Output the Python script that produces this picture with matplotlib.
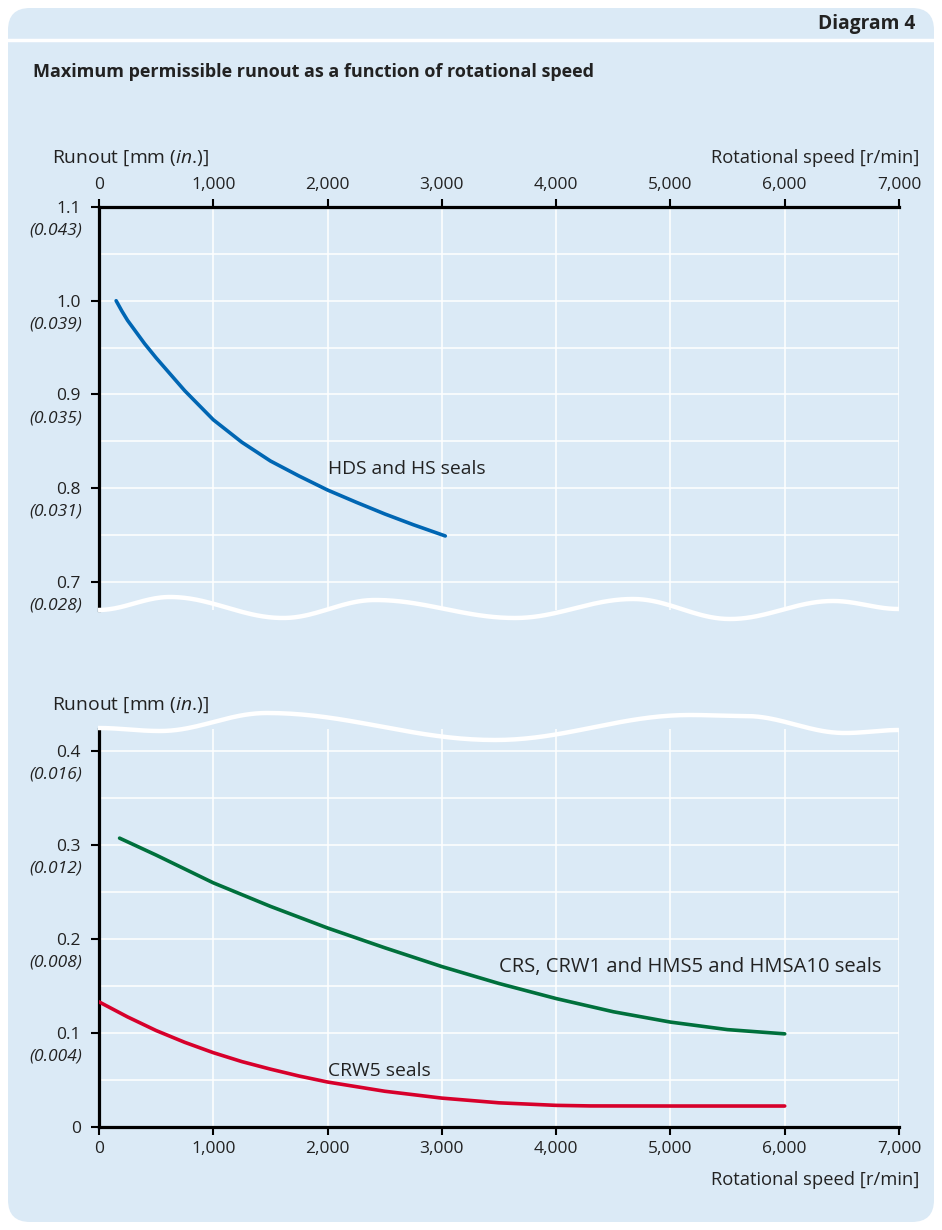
import numpy as np
import matplotlib
matplotlib.use('Agg')
import matplotlib.pyplot as plt
from matplotlib.patches import FancyBboxPatch
from matplotlib.lines import Line2D

# --- data ---
HDS_RPM = [150, 200, 250, 400, 500, 750, 1000, 1250, 1500, 1750, 2000, 2250, 2500, 2750, 3030]
HDS_RUNOUT = [1.0, 0.989, 0.979, 0.954, 0.939, 0.904, 0.873, 0.849, 0.829, 0.813,
              0.798, 0.785, 0.7725, 0.761, 0.749]

CRS_RPM = [180, 500, 1000, 1500, 2000, 2500, 3000, 3500, 4000, 4500, 5000, 5500, 6000]
CRS_RUNOUT = [0.307, 0.289, 0.2595, 0.2345, 0.2115, 0.1905, 0.1705, 0.1525, 0.1365,
              0.1225, 0.1115, 0.1035, 0.099]

CRW5_RPM = [0, 250, 500, 750, 1000, 1250, 1500, 1750, 2000, 2500, 3000, 3500, 4000,
            4300, 5000, 6000]
CRW5_RUNOUT = [0.133, 0.117, 0.1025, 0.090, 0.079, 0.0695, 0.0615, 0.0542, 0.0478,
               0.038, 0.0307, 0.0257, 0.023, 0.0224, 0.0223, 0.0223]

X_TICKS = [0, 1000, 2000, 3000, 4000, 5000, 6000, 7000]
X_TICK_LABELS = ['0', '1,000', '2,000', '3,000', '4,000', '5,000', '6,000', '7,000']
TOP_Y_TICKS = [0.7, 0.8, 0.9, 1.0, 1.1]
TOP_Y_INCH = ['(0.028)', '(0.031)', '(0.035)', '(0.039)', '(0.043)']
BOT_Y_TICKS = [0, 0.1, 0.2, 0.3, 0.4]
BOT_Y_INCH = ['', '(0.004)', '(0.008)', '(0.012)', '(0.016)']

BG = '#dbeaf6'
TXT = '#222222'
BLUE = '#0066b3'
GREEN = '#00703c'
RED = '#d7002b'

W, H = 942, 1230
FS = 13
TICK_FS = 12.5
LABEL_FS = 13.9
plt.rcParams['font.family'] = ['Open Sans', 'DejaVu Sans']
plt.rcParams['mathtext.fontset'] = 'custom'
plt.rcParams['mathtext.rm'] = 'Open Sans'
plt.rcParams['mathtext.it'] = 'Open Sans:italic'

RUNOUT_TITLE = r'Runout [mm ($\mathit{in}$.)]'


def px_axes(fig, left, top, right, bottom):
    return fig.add_axes([left / W, 1 - bottom / H, (right - left) / W, (bottom - top) / H])


def fx(x):
    return x / W


def fy(y):
    return 1 - y / H


def wave(fig, pts):
    # smooth break line through extrema (pixel coords)
    xs, ys = [], []
    for (x0, y0), (x1, y1) in zip(pts[:-1], pts[1:]):
        t = np.linspace(0, 1, 40)
        xs.extend(x0 + (x1 - x0) * t)
        ys.extend(y0 + (y1 - y0) * (1 - np.cos(np.pi * t)) / 2)
    xs = np.array(xs)
    ys = np.array(ys)
    fig.add_artist(Line2D(fx(xs), fy(ys), color='white', lw=3.2, zorder=20,
                          solid_capstyle='butt'))


def style_axes(ax, yticks, inch, where):
    ax.patch.set_visible(False)
    for s in ax.spines.values():
        s.set_visible(False)
    ax.spines['left'].set_visible(True)
    ax.spines[where].set_visible(True)
    for s in ('left', where):
        ax.spines[s].set_linewidth(2.3)
        ax.spines[s].set_color('black')
        ax.spines[s].set_capstyle('projecting')
    ax.set_xlim(0, 7000)
    ax.set_xticks(X_TICKS)
    ax.set_xticklabels(X_TICK_LABELS)
    if where == 'top':
        ax.xaxis.tick_top()
    ax.tick_params(axis='x', direction='out', length=6, width=1.5, pad=4,
                   labelsize=TICK_FS, colors='black', labelcolor=TXT)
    ax.set_yticks(yticks)
    ax.set_yticklabels([f'{v:.1f}' if v else '0' for v in yticks])
    ax.tick_params(axis='y', direction='out', length=6, width=1.5, pad=7,
                   labelsize=TICK_FS, colors='black', labelcolor=TXT)
    ax.set_yticks(np.arange(0, 1.2, 0.05), minor=True)
    ax.tick_params(axis='y', which='minor', length=0)
    ax.grid(True, which='both', color='white', lw=1.1)
    ax.set_axisbelow(True)
    for v, lab in zip(yticks, inch):
        if lab:
            ax.annotate(lab, xy=(0, v), xycoords=('axes fraction', 'data'),
                        xytext=(-12, -17), textcoords='offset points',
                        ha='right', va='center', fontsize=TICK_FS, style='italic',
                        color=TXT, annotation_clip=False)


def main():
    fig = plt.figure(figsize=(W / 100, H / 100), dpi=100)
    fig.patch.set_facecolor('white')

    panel = FancyBboxPatch((8, 8), 926, 1214, boxstyle='round,pad=0,rounding_size=22',
                           transform=None, facecolor=BG, edgecolor='none', zorder=-10)
    fig.patches.append(panel)
    fig.add_artist(Line2D([fx(8), fx(934)], [fy(40), fy(40)], color='white', lw=2.5,
                          zorder=-5))

    fig.text(fx(915), fy(24), 'Diagram 4', ha='right', va='center',
             fontsize=13.8, fontweight='bold', color=TXT)
    fig.text(fx(33), fy(72), 'Maximum permissible runout as a function of rotational speed',
             ha='left', va='center', fontsize=FS, fontweight='bold', color=TXT)

    # upper panel
    ax1 = px_axes(fig, 99, 207, 899, 610)
    style_axes(ax1, TOP_Y_TICKS, TOP_Y_INCH, 'top')
    ax1.set_ylim(0.670, 1.1)
    ax1.plot(HDS_RPM, HDS_RUNOUT, color=BLUE, lw=2.6, solid_capstyle='round', zorder=5)
    ax1.text(2000, 0.82, 'HDS and HS seals', fontsize=LABEL_FS, color=TXT,
             ha='left', va='center')

    # lower panel
    ax2 = px_axes(fig, 99, 729, 899, 1127)
    style_axes(ax2, BOT_Y_TICKS, BOT_Y_INCH, 'bottom')
    ax2.set_ylim(0, 0.423)
    ax2.plot(CRS_RPM, CRS_RUNOUT, color=GREEN, lw=2.6, solid_capstyle='round', zorder=5)
    ax2.plot(CRW5_RPM, CRW5_RUNOUT, color=RED, lw=2.6, solid_capstyle='round', zorder=5)
    ax2.text(3500, 0.17, 'CRS, CRW1 and HMS5 and HMSA10 seals', fontsize=14.5, color=TXT,
             ha='left', va='center')
    ax2.text(2000, 0.06, 'CRW5 seals', fontsize=LABEL_FS, color=TXT, ha='left', va='center')

    # axis titles
    for y in (158, 705):
        fig.text(fx(52), fy(y), RUNOUT_TITLE, ha='left', va='center',
                 fontsize=LABEL_FS, color=TXT)
    fig.text(fx(919), fy(158), 'Rotational speed [r/min]', ha='right', va='center',
             fontsize=13.2, color=TXT)
    fig.text(fx(919), fy(1180), 'Rotational speed [r/min]', ha='right', va='center',
             fontsize=13.2, color=TXT)

    # break lines
    wave(fig, [(98, 610), (170, 597), (283, 618), (375, 600), (515, 618),
               (633, 599), (730, 619), (833, 601), (899, 609)])
    wave(fig, [(98, 728), (160, 731), (267, 713), (495, 740), (690, 715),
               (745, 716), (845, 733), (899, 730)])

    fig.savefig('out.png', dpi=100, facecolor='white')
    plt.close(fig)


if __name__ == '__main__':
    main()
